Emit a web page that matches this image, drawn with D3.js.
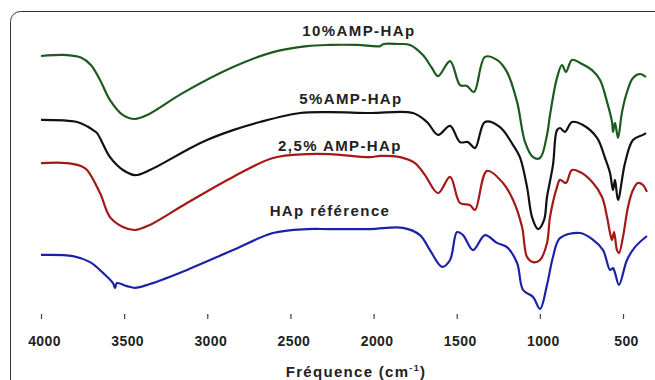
<!DOCTYPE html>
<html>
<head>
<meta charset="utf-8">
<script src="https://cdn.jsdelivr.net/npm/d3@7"></script>
<style>
  body { margin: 0; background: #fff; }
  svg { display: block; }
</style>
</head>
<body>
<svg id="chart" width="655" height="380"></svg>
<script>
// x ticks (wavenumber, cm-1)
const xTicks = [4000, 3500, 3000, 2500, 2000, 1500, 1000, 500];

// spectra: [wavenumber, transmittance (a.u., stacked)]
const amp10 = [
  [4000, 88.0], [3844, 88.3], [3760, 87.5], [3700, 85.0], [3645, 80.0], [3585, 73.3], [3507, 68.3],
  [3435, 67.0], [3362, 68.3], [3146, 75.7], [2845, 84.3], [2605, 89.3], [2400, 91.3],
  [2262, 91.7], [2100, 91.7], [1960, 91.3], [1940, 92.0], [1850, 92.0], [1781, 91.7],
  [1703, 88.3], [1649, 84.0], [1612, 81.3], [1540, 86.3], [1480, 78.3], [1438, 78.0],
  [1396, 76.0], [1330, 87.7], [1258, 86.7], [1198, 82.7], [1137, 72.7], [1089, 59.3],
  [1041, 54.3], [999, 54.0], [957, 61.7], [939, 68.3], [897, 80.7], [867, 85.0],
  [843, 82.7], [807, 86.7], [758, 85.7], [686, 83.3], [638, 80.0], [596, 72.7],
  [566, 66.0], [560, 62.7], [548, 65.7], [530, 60.7], [506, 69.3], [476, 76.0],
  [440, 80.7], [398, 82.0], [362, 81.0]
];
const amp5 = [
  [4000, 66.7], [3783, 66.0], [3720, 64.5], [3687, 63.3], [3663, 62.3], [3585, 54.3], [3507, 50.0],
  [3435, 48.3], [3345, 50.0], [3122, 56.7], [3002, 60.0], [2845, 63.3], [2683, 66.0],
  [2442, 69.0], [2262, 69.3], [2021, 69.0], [1763, 69.0], [1679, 66.0], [1612, 61.7],
  [1540, 64.7], [1480, 59.3], [1432, 59.3], [1390, 57.3], [1330, 66.0], [1240, 64.3],
  [1161, 58.3], [1120, 54.3], [1077, 44.3], [1047, 34.3], [1011, 30.3], [975, 33.3],
  [957, 41.0], [921, 51.7], [897, 63.3], [879, 64.0], [849, 62.7], [807, 66.0],
  [741, 65.0], [656, 60.7], [608, 54.0], [578, 49.0], [560, 43.3], [548, 46.7],
  [530, 40.0], [488, 52.3], [440, 60.0], [380, 61.7], [362, 62.3]
];
const amp25 = [
  [4000, 52.3], [3844, 52.3], [3760, 51.3], [3723, 50.0], [3645, 42.3], [3585, 34.3], [3507, 31.0],
  [3435, 30.0], [3345, 31.7], [3122, 39.0], [2845, 47.7], [2605, 54.0], [2400, 55.3],
  [2262, 55.3], [2021, 54.3], [1961, 54.7], [1841, 54.3], [1751, 52.3], [1691, 48.3],
  [1612, 42.3], [1540, 47.7], [1480, 39.0], [1420, 38.3], [1390, 36.7], [1318, 49.7],
  [1222, 45.7], [1161, 40.0], [1107, 31.0], [1077, 21.0], [1041, 19.3], [999, 20.0],
  [957, 25.7], [939, 34.3], [897, 44.3], [879, 46.7], [843, 45.7], [807, 50.0],
  [758, 49.3], [680, 45.7], [626, 41.0], [596, 34.3], [578, 29.0], [566, 26.7],
  [554, 29.3], [536, 23.3], [524, 22.3], [500, 27.7], [470, 37.7], [440, 43.3],
  [410, 45.7], [380, 45.0], [356, 42.7]
];
const hapRef = [
  [4000, 21.7], [3808, 21.3], [3705, 19.3], [3627, 15.7], [3567, 12.3], [3555, 10.7],
  [3543, 12.3], [3483, 11.3], [3435, 10.7], [3345, 12.0], [3122, 16.7], [2845, 23.3],
  [2605, 29.0], [2400, 30.3], [2262, 30.3], [2021, 30.3], [1823, 30.7], [1721, 28.3],
  [1661, 23.3], [1588, 17.7], [1540, 20.0], [1498, 29.3], [1462, 28.3], [1402, 23.3],
  [1330, 28.3], [1258, 25.7], [1198, 24.3], [1137, 19.0], [1101, 10.0], [1041, 7.7],
  [999, 3.7], [957, 11.7], [921, 21.0], [879, 27.3], [758, 29.0], [680, 26.7],
  [620, 23.3], [578, 16.7], [560, 17.3], [548, 15.7], [524, 11.7], [476, 20.0],
  [428, 24.3], [356, 28.0]
];

const seriesNames = ['10%AMP-HAp', '5%AMP-HAp', '2,5% AMP-HAp', 'HAp référence'];
const seriesData = [amp10, amp5, amp25, hapRef];
const seriesColors = ['#1d5a1f', '#111111', '#a51818', '#1c22a8'];
// label centres (wavenumber, transmittance)
const labelPos = [[2088, 94.7], [2136, 72.0], [2202, 56.5], [2262, 34.8]];

const svg = d3.select('#chart');
const width = +svg.attr('width');
const height = +svg.attr('height');

// frame
svg.append('rect')
  .attr('x', 10.5)
  .attr('y', 11.5)
  .attr('width', width + 20)
  .attr('height', height + 20)
  .attr('rx', 10)
  .attr('fill', 'none')
  .attr('stroke', '#333')
  .attr('stroke-width', 1);

const x = d3.scaleLinear().domain([4000, 500]).range([41, 623]);
const y = d3.scaleLinear().domain([0, 100]).range([320, 20]);

const line = d3.line()
  .x(d => x(d[0]))
  .y(d => y(d[1]))
  .curve(d3.curveCatmullRom.alpha(0.5));

svg.append('g')
  .attr('class', 'spectra')
  .selectAll('path')
  .data(seriesData)
  .enter()
  .append('path')
  .attr('d', line)
  .attr('fill', 'none')
  .attr('stroke', (d, i) => seriesColors[i])
  .attr('stroke-width', 2.2)
  .attr('stroke-linejoin', 'round');

svg.append('g')
  .attr('class', 'labels')
  .selectAll('text')
  .data(seriesNames)
  .enter()
  .append('text')
  .attr('x', (d, i) => x(labelPos[i][0]))
  .attr('y', (d, i) => y(labelPos[i][1]))
  .attr('text-anchor', 'middle')
  .attr('font-family', 'Liberation Sans, Arial, sans-serif')
  .attr('font-weight', 'bold')
  .attr('font-size', 15)
  .attr('letter-spacing', 1.4)
  .attr('fill', '#222')
  .text(d => d);

// x axis: ticks only, no domain line
const xAxis = d3.axisBottom(x)
  .tickValues(xTicks)
  .tickSize(5)
  .tickPadding(17)
  .tickFormat(d3.format('d'));

const gx = svg.append('g')
  .attr('transform', 'translate(0,314)')
  .call(xAxis);
gx.select('.domain').remove();
gx.selectAll('.tick line').attr('stroke', '#444').attr('stroke-width', 1.2);
gx.selectAll('.tick text')
  .attr('dx', 3)
  .attr('font-family', 'Liberation Sans, Arial, sans-serif')
  .attr('font-weight', 'bold')
  .attr('font-size', 14)
  .attr('letter-spacing', 0.4)
  .attr('fill', '#222');

const title = svg.append('text')
  .attr('x', 356)
  .attr('y', 377)
  .attr('text-anchor', 'middle')
  .attr('font-family', 'Liberation Sans, Arial, sans-serif')
  .attr('font-weight', 'bold')
  .attr('font-size', 15)
  .attr('letter-spacing', 1.3)
  .attr('fill', '#222');
title.append('tspan').text('Fréquence (cm');
title.append('tspan').attr('dy', -6).attr('font-size', 9).text('-1');
title.append('tspan').attr('dy', 6).text(')');
</script>
</body>
</html>
